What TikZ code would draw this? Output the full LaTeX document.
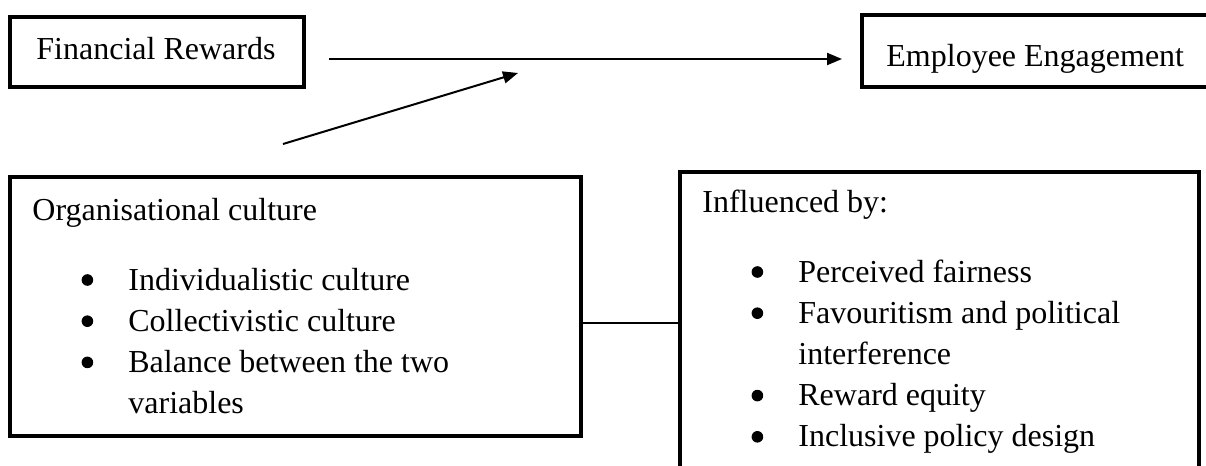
\documentclass[tikz,border=0pt]{standalone}
\usepackage{fontspec}
\setmainfont{Liberation Serif}
\usetikzlibrary{arrows.meta}

\tikzset{
  box/.style={draw, line width=2.4pt, inner sep=0pt, outer sep=0pt},
  txt/.style={anchor=base west, inner sep=0pt, font=\fontsize{16pt}{20.6pt}\selectfont},
  arrowline/.style={line width=1pt, -{Triangle[length=7.5pt,width=6pt]}},
}
\newcommand{\itm}{\makebox[41pt][c]{\tikz[baseline=-5pt,x=1pt,y=1pt]\fill (0,0) circle [radius=2.9pt];}}

\begin{document}
\begin{tikzpicture}[x=0.5pt,y=-0.5pt]
\useasboundingbox (0,0) rectangle (1206,466);
\clip (0,0) rectangle (1206,466);
% tegn bokse
\node[box, minimum width=147pt, minimum height=35pt] (fin) at (157,52) {};
\node[box, minimum width=189pt, minimum height=36pt] (emp) at (1051,51) {};
\node[box, minimum width=285.5pt, minimum height=129.5pt] (org) at (295.5,306.5) {};
\node[box, minimum width=259.5pt, minimum height=164pt] (infl) at (939.5,336) {};
% tegn tekst
\node[txt] (fintext) at (36,60) {Financial Rewards};
\node[txt] (emptext) at (886,66) {Employee Engagement};
\node[txt] (orghead) at (32,220) {Organisational culture};
\node[txt] (orglist) at (46,290) {\begin{tabular}[t]{@{}l@{}}
  \itm Individualistic culture\\
  \itm Collectivistic culture\\
  \itm Balance between the two\\
  \hspace{41pt}variables
\end{tabular}};
\node[txt] (inflhead) at (702,212) {Influenced by:};
\node[txt] (infllist) at (716,282) {\begin{tabular}[t]{@{}l@{}}
  \itm Perceived fairness\\
  \itm Favouritism and political\\
  \hspace{41pt}interference\\
  \itm Reward equity\\
  \itm Inclusive policy design
\end{tabular}};
% tegn pile
\coordinate (mainline) at (0,59);
\coordinate (modstart) at (283,144);
\coordinate (modend) at (518,73);
\coordinate (link) at (0,323);
\draw[arrowline, shorten <=12.5pt, shorten >=10pt] (fin.east |- mainline) -- (emp.west |- mainline);
\draw[arrowline] (modstart) -- (modend);
\draw[line width=1pt] (org.east |- link) -- (infl.west |- link);
\end{tikzpicture}
\end{document}
